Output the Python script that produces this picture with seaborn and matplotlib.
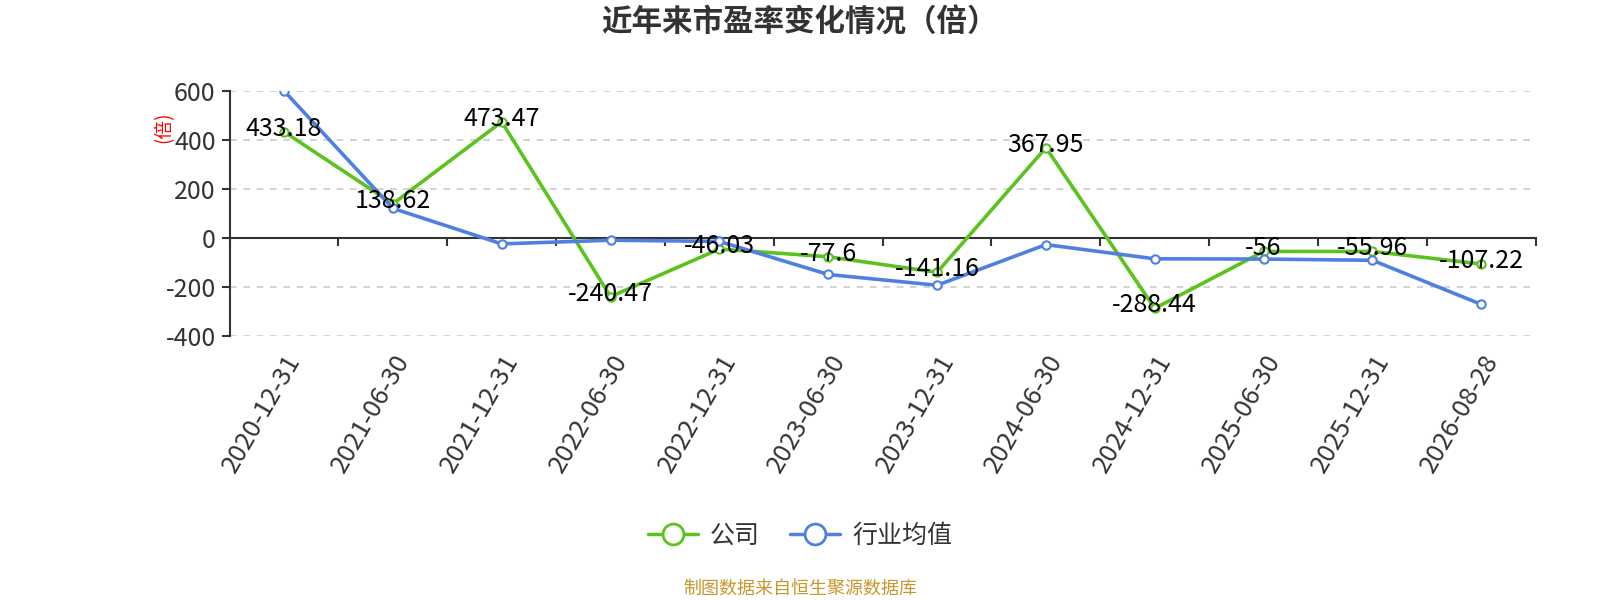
import matplotlib
matplotlib.use("Agg")
import matplotlib.pyplot as plt
from matplotlib.lines import Line2D
import matplotlib.transforms as mtransforms
import seaborn as sns
import pandas as pd
import numpy as np

dates = ["2020-12-31", "2021-06-30", "2021-12-31", "2022-06-30", "2022-12-31", "2023-06-30",
         "2023-12-31", "2024-06-30", "2024-12-31", "2025-06-30", "2025-12-31", "2026-08-28"]
company = [433.18, 138.62, 473.47, -240.47, -46.03, -77.6, -141.16, 367.95, -288.44, -56, -55.96, -107.22]
industry = [600, 120, -25, -10, -15, -150, -194, -28, -86, -87, -92, -272]
company_labels = ["433.18", "138.62", "473.47", "-240.47", "-46.03", "-77.6", "-141.16", "367.95",
                  "-288.44", "-56", "-55.96", "-107.22"]
yticks = [-400, -200, 0, 200, 400, 600]

GREEN = "#5bc21e"
BLUE = "#4f80e1"

sns.set_theme(style="white")
plt.rcParams['font.family'] = ['Noto Sans CJK SC', 'DejaVu Sans']
plt.rcParams['axes.unicode_minus'] = False

fig = plt.figure(figsize=(16, 6), dpi=100)
ax = fig.add_axes([0.1435, 0.4405, 0.8163, 0.4081])

idx = np.arange(len(dates))
df = pd.DataFrame({"idx": np.concatenate([idx, idx]),
                   "value": company + industry,
                   "series": ["公司"] * len(dates) + ["行业均值"] * len(dates)})

ax.set_ylim(-400, 600)
ax.set_xlim(-0.5, len(dates) - 0.5)
ax.set_yticks(yticks)
for y in yticks:
    if y != 0:
        ax.axhline(y, color="#cccccc", lw=1.2, ls=(0, (4, 4)), zorder=0)

sns.lineplot(data=df[df.series == "公司"], x="idx", y="value", ax=ax, color=GREEN, lw=2.6,
             marker="o", markersize=6, markerfacecolor="white", markeredgecolor=GREEN,
             markeredgewidth=1.5, legend=False, zorder=3)
sns.lineplot(data=df[df.series == "行业均值"], x="idx", y="value", ax=ax, color=BLUE, lw=2.6,
             marker="o", markersize=6, markerfacecolor="white", markeredgecolor=BLUE,
             markeredgewidth=1.5, legend=False, zorder=4)

off = mtransforms.offset_copy(ax.transData, fig=fig, x=0, y=3, units='dots')
for i, (v, lab) in enumerate(zip(company, company_labels)):
    ax.text(i, v, lab, transform=off, ha="center", va="center", fontsize=18, color="black", zorder=6)

# spines
for s in ["top", "right", "bottom"]:
    ax.spines[s].set_visible(False)
ax.spines["left"].set_color("#333333")
ax.spines["left"].set_linewidth(1.5)
ax.tick_params(axis="y", which="both", left=True, length=6, width=1.5, color="#333333",
               labelsize=18, labelcolor="#333333", pad=4)

# category labels at bottom
ax.set_xticks(idx)
ax.set_xticklabels(dates, rotation=60, ha="right", va="top", rotation_mode="anchor",
                   fontsize=18.5, color="#333333")
ax.tick_params(axis="x", bottom=True, length=0, pad=10)
ax.set_xlabel("")
ax.set_ylabel("")

# zero axis line with boundary ticks
sec = ax.secondary_xaxis(0.4)
sec.set_xticks(np.arange(-0.5, len(dates), 1.0))
sec.set_xticklabels([])
sec.spines["bottom"].set_color("#333333")
sec.spines["bottom"].set_linewidth(1.5)
sec.tick_params(axis="x", length=6, width=1.5, color="#333333", direction="out")

fig.text(161 / 1568, 1 - 125 / 588, "(倍)", rotation=90, color="red", fontsize=13.5,
         ha="center", va="center")

fig.text(0.5, 1 - 22 / 588, "近年来市盈率变化情况（倍）", ha="center", va="center",
         fontsize=22, fontweight="bold", color="#333333")

handles = [Line2D([0], [0], color=GREEN, lw=2.5, marker="o", markersize=15,
                  markerfacecolor="white", markeredgecolor=GREEN, markeredgewidth=2),
           Line2D([0], [0], color=BLUE, lw=2.5, marker="o", markersize=15,
                  markerfacecolor="white", markeredgecolor=BLUE, markeredgewidth=2)]
fig.legend(handles, ["公司", "行业均值"], loc="center", bbox_to_anchor=(0.5, 1 - 525 / 588),
           ncol=2, frameon=False, fontsize=18, handlelength=2.0, columnspacing=1.2,
           handletextpad=0.5, labelcolor="#333333")

fig.text(0.5, 1 - 577 / 588, "制图数据来自恒生聚源数据库", ha="center", va="center",
         fontsize=13, color="#c8962a")

fig.savefig("out.png", dpi=100)
